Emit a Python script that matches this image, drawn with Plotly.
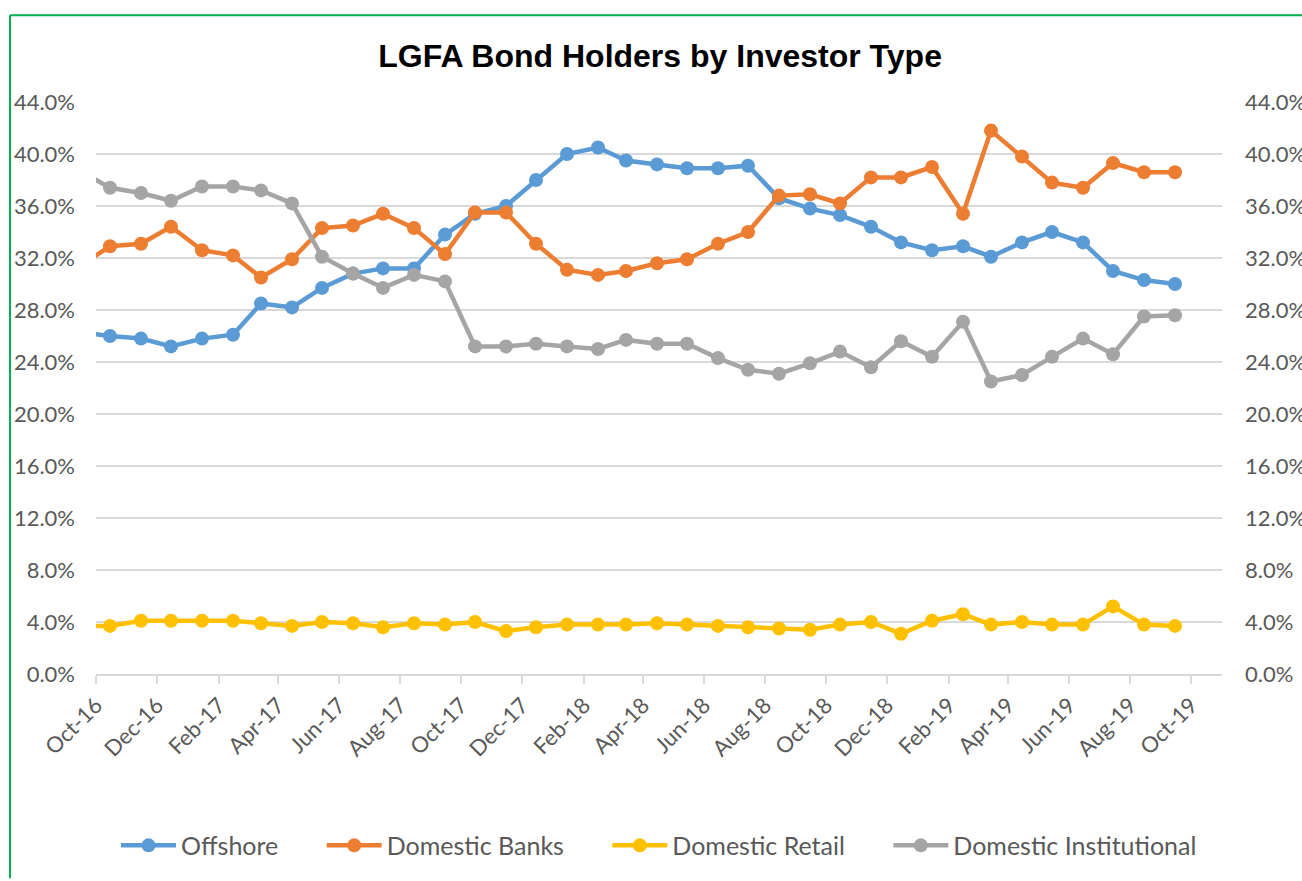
import pandas as pd
import plotly.graph_objects as go

# monthly observations (placed mid-month), Sep-16 .. Sep-19
months = pd.date_range("2016-09-01", "2019-09-01", freq="MS") + pd.Timedelta(days=14)

offshore = [26.3, 26.0, 25.8, 25.2, 25.8, 26.1, 28.5, 28.2, 29.7, 30.8, 31.2, 31.2, 33.8,
            35.4, 36.0, 38.0, 40.0, 40.5, 39.5, 39.2, 38.9, 38.9, 39.1, 36.6, 35.8, 35.3,
            34.4, 33.2, 32.6, 32.9, 32.1, 33.2, 34.0, 33.2, 31.0, 30.3, 30.0]
domestic_banks = [31.4, 32.9, 33.1, 34.4, 32.6, 32.2, 30.5, 31.9, 34.3, 34.5, 35.4, 34.3, 32.3,
                  35.5, 35.5, 33.1, 31.1, 30.7, 31.0, 31.6, 31.9, 33.1, 34.0, 36.8, 36.9, 36.2,
                  38.2, 38.2, 39.0, 35.4, 41.8, 39.8, 37.8, 37.4, 39.3, 38.6, 38.6]
domestic_retail = [3.7, 3.7, 4.1, 4.1, 4.1, 4.1, 3.9, 3.7, 4.0, 3.9, 3.6, 3.9, 3.8,
                   4.0, 3.3, 3.6, 3.8, 3.8, 3.8, 3.9, 3.8, 3.7, 3.6, 3.5, 3.4, 3.8,
                   4.0, 3.1, 4.1, 4.6, 3.8, 4.0, 3.8, 3.8, 5.2, 3.8, 3.7]
domestic_institutional = [38.7, 37.4, 37.0, 36.4, 37.5, 37.5, 37.2, 36.2, 32.1, 30.8, 29.7, 30.7, 30.2,
                          25.2, 25.2, 25.4, 25.2, 25.0, 25.7, 25.4, 25.4, 24.3, 23.4, 23.1, 23.9, 24.8,
                          23.6, 25.6, 24.4, 27.1, 22.5, 23.0, 24.4, 25.8, 24.6, 27.5, 27.6]

series = [
    ("Offshore", offshore, "#5B9BD5"),
    ("Domestic Banks", domestic_banks, "#ED7D31"),
    ("Domestic Retail", domestic_retail, "#FFC000"),
    ("Domestic Institutional", domestic_institutional, "#A5A5A5"),
]

tick_font = dict(family="Lato, 'Open Sans', sans-serif", size=22, color="#595959")
pad = "\u00a0" * 6  # extra room between legend entries

fig = go.Figure()
for i, (name, vals, color) in enumerate(series):
    label = name if i == len(series) - 1 else name + pad
    fig.add_trace(go.Scatter(x=months, y=[v / 100 for v in vals], name=label,
                             mode="lines+markers", line=dict(color=color, width=4.5),
                             marker=dict(color=color, size=14)))

# dummy trace so the right-hand axis gets drawn
fig.add_trace(go.Scatter(x=[months[1]], y=[0], yaxis="y2", mode="markers",
                         marker=dict(opacity=0), showlegend=False, hoverinfo="skip"))

fig.update_layout(
    width=1302, height=881,
    margin=dict(l=96, r=80, t=102, b=205),
    paper_bgcolor="white", plot_bgcolor="white",
    title=dict(text="<b>LGFA Bond Holders by Investor Type</b>",
               x=0.507, xanchor="center", y=0.937, yanchor="middle",
               font=dict(family="Arial, 'Liberation Sans', sans-serif", size=32, color="black")),
    xaxis=dict(
        type="date", automargin=False,
        range=["2016-10-01", "2019-11-01"],
        tickmode="linear", tick0="2016-10-01", dtick="M2",
        tickformat="%b-%y", tickangle=-45,
        ticks="outside", ticklen=8, tickwidth=1.5, tickcolor="#D9D9D9",
        showline=True, linecolor="#D9D9D9", linewidth=1.5,
        showgrid=False, zeroline=False,
        tickfont=tick_font,
    ),
    yaxis=dict(
        automargin=False,
        range=[0, 0.44], dtick=0.04, tickformat=".1%",
        showgrid=True, gridcolor="#D9D9D9", gridwidth=1.5,
        zeroline=False, showline=False,
        ticklabelstandoff=20,
        tickfont=tick_font,
    ),
    yaxis2=dict(
        overlaying="y", side="right", automargin=False,
        range=[0, 0.44], dtick=0.04, tickformat=".1%",
        showgrid=False, zeroline=False, showline=False,
        ticklabelstandoff=22,
        tickfont=tick_font,
    ),
    legend=dict(orientation="h", x=0.5, xanchor="center", y=-0.30, yanchor="middle",
                font=dict(family="Lato, 'Open Sans', sans-serif", size=25, color="#595959"),
                itemwidth=55, tracegroupgap=0),
    showlegend=True,
)

# green frame on the left and top edges of the image
fig.add_shape(type="line", xref="paper", yref="paper",
              x0=(10 - 96) / 1126, x1=(10 - 96) / 1126, y0=(676 - 881) / 574, y1=(676 - 15) / 574,
              line=dict(color="#00B050", width=2))
fig.add_shape(type="line", xref="paper", yref="paper",
              x0=(10 - 96) / 1126, x1=(1302 - 96) / 1126, y0=(676 - 15) / 574, y1=(676 - 15) / 574,
              line=dict(color="#00B050", width=2))

# drop the browser's default page margin so the figure sits at the window origin
fig.write_html("out.html", config={"displayModeBar": False},
               post_script="document.body.style.margin='0';")
